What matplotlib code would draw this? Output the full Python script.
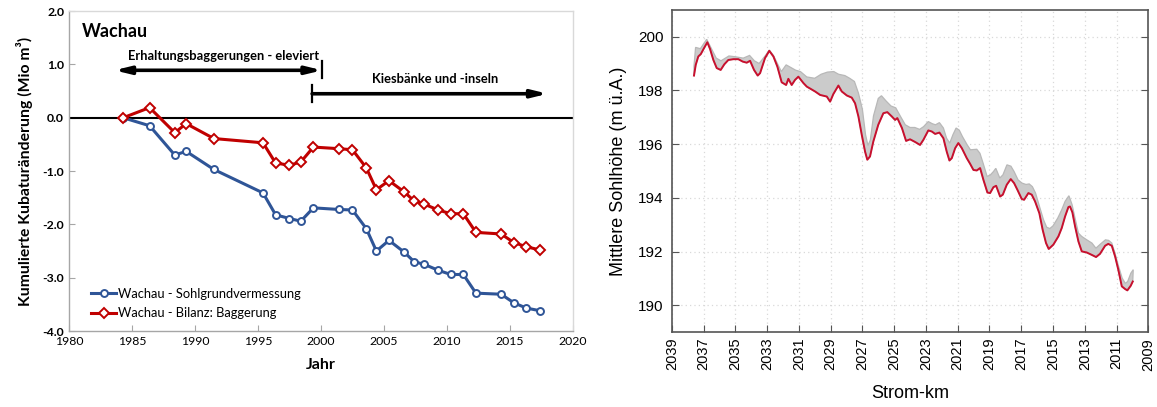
import matplotlib
matplotlib.use("Agg")
import matplotlib.pyplot as plt

# --- left panel: cumulative volume change, Wachau ---
years = [1984.3, 1986.4, 1988.4, 1989.3, 1991.5, 1995.4, 1996.4, 1997.5, 1998.4,
         1999.4, 2001.4, 2002.5, 2003.6, 2004.4, 2005.4, 2006.6, 2007.4, 2008.2,
         2009.3, 2010.3, 2011.3, 2012.3, 2014.3, 2015.3, 2016.3, 2017.4]
survey = [0.0, -0.15, -0.70, -0.63, -0.97, -1.41, -1.82, -1.89, -1.94,
          -1.69, -1.72, -1.73, -2.08, -2.50, -2.30, -2.52, -2.70, -2.75,
          -2.86, -2.94, -2.94, -3.29, -3.31, -3.47, -3.57, -3.62]
dredging = [0.0, 0.19, -0.28, -0.11, -0.39, -0.47, -0.85, -0.89, -0.83,
            -0.55, -0.58, -0.60, -0.94, -1.35, -1.18, -1.39, -1.56, -1.62,
            -1.73, -1.80, -1.80, -2.15, -2.18, -2.34, -2.42, -2.48]
phases = [("Erhaltungsbaggerungen - eleviert", 1983.6, 2000.1),
          ("Kiesbänke und -inseln", 1999.3, 2018.0)]

# --- right panel: mean bed level along the river ---
red_km = [2037.6, 2037.49, 2037.33, 2037.17, 2036.97, 2036.76, 2036.59, 2036.38,
          2036.17, 2035.92, 2035.69, 2035.44, 2035.12, 2034.81, 2034.53, 2034.28,
          2034.07, 2033.82, 2033.59, 2033.44, 2033.13, 2032.86, 2032.6, 2032.35,
          2032.08, 2031.8, 2031.66, 2031.45, 2031.24, 2031.03, 2030.71, 2030.5,
          2029.98, 2029.66, 2029.24, 2029.03, 2028.83, 2028.51, 2028.3, 2027.98,
          2027.67, 2027.46, 2027.25, 2027.04, 2026.83, 2026.69, 2026.52, 2026.31,
          2026.0, 2025.68, 2025.43, 2025.15, 2024.94, 2024.8, 2024.51, 2024.25,
          2024.0, 2023.68, 2023.37, 2023.16, 2022.85, 2022.63, 2022.42, 2022.15,
          2021.9, 2021.69, 2021.52, 2021.37, 2021.16, 2020.96, 2020.74, 2020.43,
          2020.22, 2020.01, 2019.8, 2019.59, 2019.38, 2019.13, 2018.96, 2018.75,
          2018.58, 2018.33, 2018.16, 2017.91, 2017.66, 2017.45, 2017.24, 2016.97,
          2016.82, 2016.55, 2016.34, 2016.13, 2015.86, 2015.65, 2015.44, 2015.27,
          2014.98, 2014.66, 2014.45, 2014.24, 2014.03, 2013.93, 2013.78, 2013.61,
          2013.4, 2013.19, 2012.88, 2012.56, 2012.29, 2012.04, 2011.72, 2011.52,
          2011.3, 2011.09, 2010.89, 2010.67, 2010.46, 2010.32, 2010.11, 2009.98]
red_z = [198.55, 198.95, 199.26, 199.35, 199.57, 199.79, 199.54, 199.13,
         198.83, 198.76, 198.97, 199.13, 199.16, 199.16, 199.07, 199.03,
         199.10, 198.76, 198.55, 198.64, 199.20, 199.47, 199.26, 198.88,
         198.30, 198.20, 198.43, 198.20, 198.39, 198.51, 198.27, 198.14,
         197.96, 197.83, 197.77, 197.58, 197.86, 198.18, 197.96, 197.81,
         197.73, 197.52, 197.03, 196.35, 195.72, 195.42, 195.54, 196.10,
         196.72, 197.15, 197.19, 197.03, 196.90, 196.97, 196.60, 196.12,
         196.18, 196.08, 195.97, 196.16, 196.51, 196.47, 196.38, 196.43,
         196.22, 195.72, 195.39, 195.48, 195.85, 196.04, 195.85, 195.48,
         195.27, 195.04, 195.02, 195.11, 194.67, 194.20, 194.18, 194.40,
         194.45, 194.05, 194.12, 194.49, 194.70, 194.55, 194.30, 193.96,
         193.93, 194.18, 194.12, 193.87, 193.43, 192.81, 192.32, 192.10,
         192.26, 192.57, 192.88, 193.31, 193.66, 193.68, 193.46, 192.94,
         192.38, 192.01, 191.97, 191.88, 191.80, 191.92, 192.22, 192.29,
         192.22, 191.82, 191.33, 190.71, 190.61, 190.56, 190.73, 190.89]

# highest of the earlier surveys
grey_km = [2037.6, 2037.5, 2037.2, 2036.8, 2036.5, 2036.2, 2035.9, 2035.4,
           2035.0, 2034.5, 2034.1, 2033.8, 2033.5, 2033.1, 2032.86, 2032.6,
           2032.35, 2032.1, 2031.8, 2031.5, 2031.2, 2030.9, 2030.5, 2030.0,
           2029.6, 2029.2, 2028.8, 2028.5, 2028.1, 2027.8, 2027.5, 2027.25,
           2027.0, 2026.8, 2026.65, 2026.5, 2026.3, 2026.0, 2025.8, 2025.5,
           2025.2, 2024.9, 2024.6, 2024.3, 2024.0, 2023.7, 2023.4, 2023.15,
           2022.85, 2022.6, 2022.4, 2022.15, 2021.9, 2021.7, 2021.5, 2021.3,
           2021.1, 2020.9, 2020.7, 2020.4, 2020.2, 2020.0, 2019.8, 2019.6,
           2019.4, 2019.15, 2018.95, 2018.75, 2018.6, 2018.35, 2018.15, 2017.9,
           2017.65, 2017.45, 2017.2, 2016.95, 2016.7, 2016.5, 2016.3, 2016.1,
           2015.85, 2015.6, 2015.4, 2015.2, 2015.0, 2014.7, 2014.45, 2014.24,
           2014.0, 2013.8, 2013.6, 2013.4, 2013.2, 2012.9, 2012.55, 2012.3,
           2012.0, 2011.7, 2011.5, 2011.3, 2011.1, 2010.9, 2010.65, 2010.45,
           2010.3, 2010.1, 2009.95]
grey_z = [198.9, 199.6, 199.55, 199.9, 199.55, 199.2, 199.1, 199.28,
          199.25, 199.2, 199.3, 199.1, 199.0, 199.3, 199.5, 199.3,
          199.0, 198.7, 198.95, 198.85, 198.75, 198.7, 198.5, 198.45,
          198.6, 198.68, 198.7, 198.6, 198.55, 198.45, 198.33, 197.9,
          197.3, 196.35, 195.95, 196.15, 197.05, 197.7, 197.8, 197.6,
          197.42, 197.35, 197.03, 196.72, 196.62, 196.62, 196.55, 196.65,
          196.84, 196.76, 196.72, 196.8, 196.6, 196.22, 196.04, 196.35,
          196.6, 196.52, 196.28, 195.97, 195.79, 195.8, 195.81, 195.66,
          195.29, 194.8, 194.85, 194.98, 195.1, 194.74, 194.86, 195.23,
          195.18, 194.98, 194.67, 194.55, 194.5, 194.52, 194.42, 194.18,
          193.68, 193.19, 192.91, 192.86, 192.96, 193.25, 193.56, 193.87,
          194.08, 193.75, 193.21, 192.69, 192.57, 192.45, 192.32, 192.13,
          192.29, 192.44, 192.42, 192.32, 191.95, 191.51, 191.02, 190.82,
          190.89, 191.2, 191.33]

fig = plt.figure(figsize=(11.57, 4.07), dpi=100)
fig.patch.set_facecolor("white")

# ---------------- left panel ----------------
ax1 = fig.add_axes([0.0596, 0.1867, 0.4356, 0.786])
left_font = ["Lato", "DejaVu Sans"]

ax1.axhline(0, color="black", lw=1.5, zorder=2)
ax1.plot(years, survey, color="#2f5597", lw=2.2, marker="o", ms=5,
         mfc="white", mec="#2f5597", mew=1.4, zorder=3,
         label="Wachau - Sohlgrundvermessung")
ax1.plot(years, dredging, color="#c00000", lw=2.2, marker="D", ms=5,
         mfc="white", mec="#c00000", mew=1.4, zorder=4,
         label="Wachau - Bilanz: Baggerung")

ax1.set_xlim(1980, 2020)
ax1.set_ylim(-4, 2)
ax1.set_xticks(range(1980, 2021, 5))
ax1.set_yticks(range(-4, 3))
ax1.set_yticklabels([f"{v:.1f}" for v in range(-4, 3)], fontweight="bold")
ax1.tick_params(direction="in", length=4, color="#a6a6a6", labelsize=8.8)
for lab in ax1.get_xticklabels() + ax1.get_yticklabels():
    lab.set_family(left_font)
for side, spine in ax1.spines.items():
    spine.set_color("#a6a6a6" if side in ("left", "bottom") else "#d9d9d9")
    spine.set_linewidth(1.0)

ax1.set_xlabel("Jahr", fontsize=11.5, fontweight="bold", family=left_font, labelpad=8)
ax1.set_ylabel("Kumulierte Kubaturänderung (Mio m³)", fontsize=11.3,
               fontweight="bold", family=left_font, labelpad=7)
ax1.text(1981.0, 1.62, "Wachau", fontsize=13, fontweight="bold",
         family=left_font, va="center")

# period arrows
text_y = [1.16, 0.72]
arrow_y = [0.89, 0.45]
styles = ["<|-|>,head_length=0.9,head_width=0.22", "-|>,head_length=0.9,head_width=0.22"]
for (label, x0, x1), ty, ay, st, bar_x in zip(phases, text_y, arrow_y, styles,
                                             [phases[0][2], phases[1][1]]):
    ax1.annotate("", xy=(x1, ay), xytext=(x0, ay),
                 arrowprops=dict(arrowstyle=st, lw=2.6, color="black",
                                 shrinkA=0, shrinkB=0, mutation_scale=10))
    ax1.plot([bar_x, bar_x], [ay - 0.15, ay + 0.17], color="black", lw=1.6)
    ax1.text((x0 + x1) / 2 + 0.4, ty, label, fontsize=9.3, fontweight="bold",
             family=left_font, ha="center", va="center")

ax1.legend(loc="lower left", bbox_to_anchor=(0.02, 0.0), frameon=False,
           prop={"family": left_font, "size": 9.3}, handlelength=2.0,
           handletextpad=0.1, labelspacing=0.6)

# ---------------- right panel ----------------
ax2 = fig.add_axes([0.5806, 0.1835, 0.4119, 0.7926])
right_font = ["Liberation Sans", "DejaVu Sans"]

# band of earlier surveys down to the latest one
ax2.fill(list(grey_km) + red_km[::-1], list(grey_z) + red_z[::-1],
         color="#cbcbcb", lw=0.9, ec="#b8b8b8", zorder=1)
ax2.plot(red_km, red_z, color="#c8102e", lw=1.4, zorder=3)

ax2.set_xlim(2039, 2009)
ax2.set_ylim(189, 201)
ax2.set_xticks(range(2039, 2008, -2))
ax2.set_yticks(range(190, 201, 2))
ax2.grid(True, color="#d9d9d9", ls=(0, (1, 2.5)), lw=0.9)
ax2.set_axisbelow(True)
ax2.tick_params(axis="x", direction="in", length=5, pad=4, color="#555555",
                labelsize=10.5, labelrotation=90)
ax2.tick_params(axis="y", direction="in", length=5, pad=6, color="#555555",
                labelsize=11, right=True)
for lab in ax2.get_xticklabels() + ax2.get_yticklabels():
    lab.set_family(right_font)
for spine in ax2.spines.values():
    spine.set_color("#555555")
    spine.set_linewidth(1.2)
ax2.set_xlabel("Strom-km", fontsize=13, family=right_font, labelpad=10)
ax2.set_ylabel("Mittlere Sohlhöhe (m ü.A.)", fontsize=13, family=right_font,
               labelpad=8)

fig.savefig("out.png", dpi=100)
